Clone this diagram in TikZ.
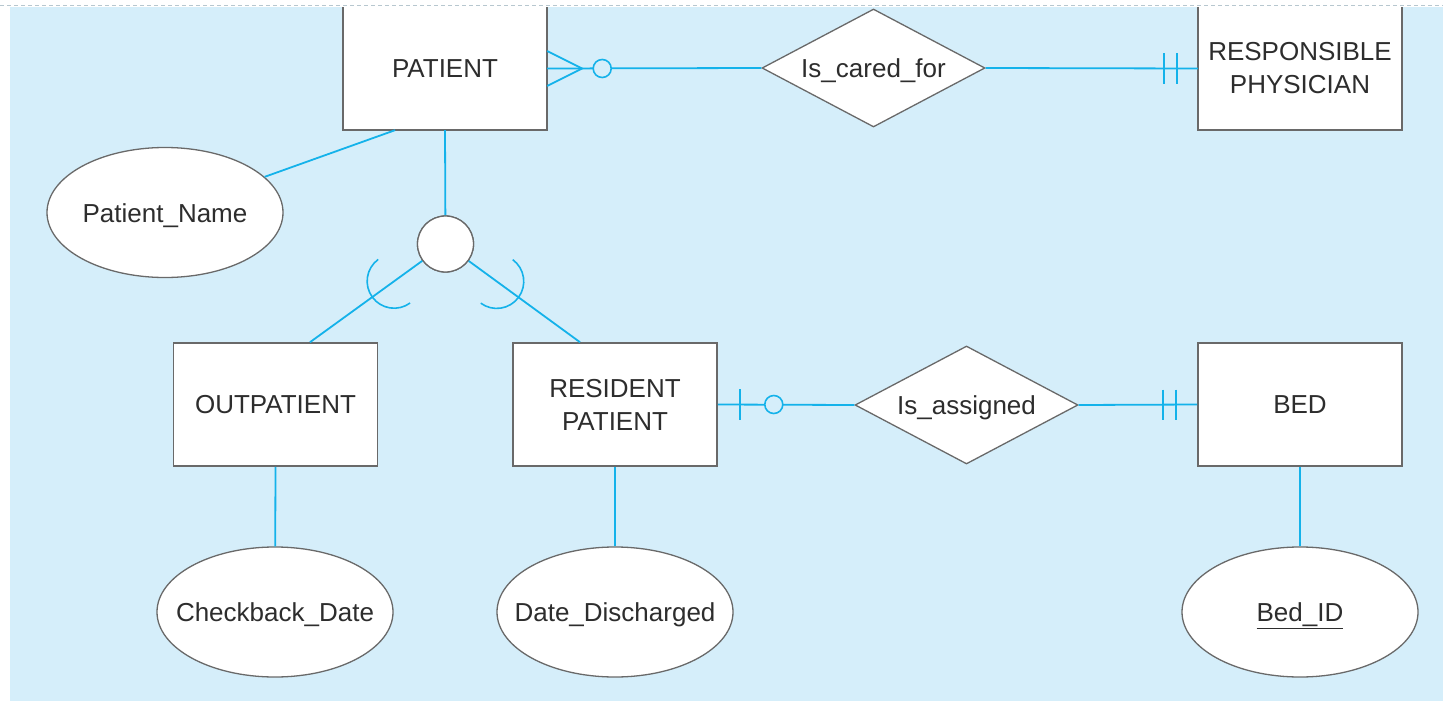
\documentclass[tikz,border=0pt]{standalone}
\usepackage{fontspec}
\setmainfont{Liberation Sans}
\usetikzlibrary{shapes.geometric,calc}
\definecolor{bgblue}{RGB}{213,238,250}
\definecolor{conn}{RGB}{20,178,234}
\definecolor{edgegray}{RGB}{105,105,105}
\definecolor{txt}{RGB}{45,45,45}
\newcommand{\zw}[1]{\makebox[0pt][c]{#1}}
\begin{document}
\begin{tikzpicture}[x=1pt,y=-1pt,
  lbl/.style={text=txt, font=\fontsize{26}{33}\selectfont, align=center},
  ent/.style={lbl, draw=edgegray, line width=1.6pt, fill=white, minimum width=204pt, minimum height=123pt, inner sep=0pt},
  entopen/.style={lbl, fill=white, minimum width=204pt, minimum height=123pt, inner sep=0pt},
  border/.style={draw=edgegray, line width=1.6pt},
  attr/.style={lbl, ellipse, draw=edgegray, line width=1.3pt, fill=white, minimum width=236pt, minimum height=130pt, inner sep=0pt, text height=19pt, text depth=0pt},
  rel/.style={lbl, diamond, draw=edgegray, line width=1.3pt, fill=white, aspect=1.9, minimum width=223pt, minimum height=118pt, inner sep=0pt, text height=19pt, text depth=0pt},
  link/.style={draw=conn, line width=1.8pt},
  optcirc/.style={draw=conn, line width=1.6pt, fill=bgblue},
  subarc/.style={draw=conn, line width=1.6pt},
  subcirc/.style={circle, draw=edgegray, line width=1.3pt, fill=white, minimum size=56pt, inner sep=0pt}
]
\useasboundingbox (0,0) rectangle (1443,701);
\fill[white] (-5,-5) rectangle (1450,710);
\draw[draw=gray!35!bgblue, line width=0.8pt, dash pattern=on 4pt off 3pt] (0,5) -- (1443,5);
\fill[bgblue] (10,7) rectangle (1450,710);
\begin{scope}
\clip (10,7.5) rectangle (1450,710);

% entities
\node[entopen] (P) at (445,68.5) {PATIENT};
\draw[border] (P.north west) |- (P.south east) -- (P.north east);
\node[entopen] (RP) at (1300,68.5) {RESPONSIBLE\\PHYSICIAN};
\draw[border] (RP.north west) |- (RP.south east) -- (RP.north east);
\node[ent] (O) at (275.5,404.5) {OUTPATIENT};
\node[ent] (R) at (615,404.5) {RESIDENT\\PATIENT};
\node[ent] (B) at (1300,404.5) {BED};

% relationships
\node[rel] (care) at (873.5,68) {\zw{Is\_cared\_for}};
\node[rel] (assign) at (966.5,405) {\zw{Is\_assigned}};

% attributes
\node[attr] (pname) at (165,212.5) {\zw{Patient\_Name}};
\node[attr] (cdate) at (275,612) {\zw{Checkback\_Date}};
\node[attr] (ddate) at (615,612) {\zw{Date\_Discharged}};
\node[attr] (bedid) at (1300,612) {\zw{\underline{Bed\_ID}}};

% subtype circle
\node[subcirc] (C) at (445.5,244) {};

% connectors
\draw[link] (P.east) -- (care.west);
\draw[link] ($(P.east)+(0,-17.5)$) -- ($(P.east)+(35,0)$) -- ($(P.east)+(0,17.5)$);
\draw[optcirc] ($(P.east)+(55,0)$) circle[radius=9];
\draw[link] (care.east) -- (RP.west);
\draw[link] ($(RP.west)+(-34,-15)$) -- ++(0,30);
\draw[link] ($(RP.west)+(-21,-15)$) -- ++(0,30);

\draw[link] ([xshift=-50pt]P.south) -- (pname);
\draw[link] (P.south) -- (C);

\coordinate (Otop) at ([xshift=34.5pt]O.north);
\coordinate (Rtop) at ([xshift=-35pt]R.north);
\draw[link] (C) -- (Otop);
\draw[link] (C) -- (Rtop);
\coordinate (la) at ($(C.center)!0.379!(Otop)$);
\coordinate (ra) at ($(C.center)!0.381!(Rtop)$);
\draw[subarc] (la) ++(-126.2:27) arc[start angle=-126.2, end angle=-306.2, radius=27];
\draw[subarc] (ra) ++(-53.6:27) arc[start angle=-53.6, end angle=126.4, radius=27];

\draw[link] (R.east) -- (assign.west);
\draw[link] ($(R.east)+(22,-15.5)$) -- ++(0,31);
\draw[optcirc] ($(R.east)+(56,0)$) circle[radius=9];
\draw[link] (assign.east) -- (B.west);
\draw[link] ($(B.west)+(-34,-15)$) -- ++(0,30);
\draw[link] ($(B.west)+(-21,-15)$) -- ++(0,30);

\draw[link] (O.south) -- (cdate);
\draw[link] (R.south) -- (ddate);
\draw[link] (B.south) -- (bedid);

% redraw circle over connectors
\node[subcirc] at (C) {};
\end{scope}
\end{tikzpicture}
\end{document}
